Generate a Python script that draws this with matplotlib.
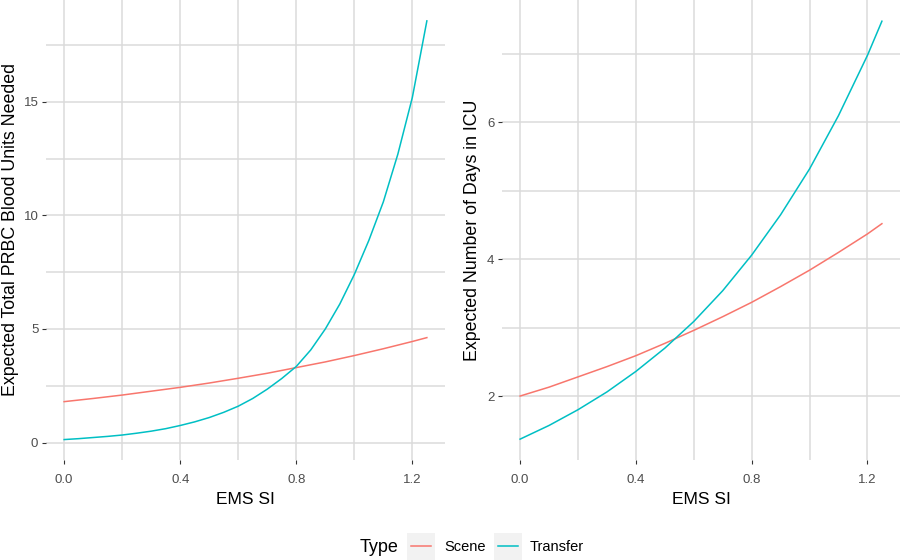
import matplotlib
matplotlib.use("Agg")
import matplotlib.pyplot as plt
from matplotlib.patches import Rectangle
from matplotlib.lines import Line2D
from matplotlib.ticker import MultipleLocator

plt.rcParams['font.family'] = ['Liberation Sans', 'DejaVu Sans']

# ---- data ----
x_fine = [0.0, 0.05, 0.10, 0.15, 0.20, 0.25, 0.30, 0.35, 0.40, 0.45, 0.50, 0.55, 0.60,
          0.65, 0.70, 0.75, 0.80, 0.85, 0.90, 0.95, 1.00, 1.05, 1.10, 1.15, 1.20, 1.25]
prbc_transfer = [0.13, 0.17, 0.22, 0.27, 0.33, 0.41, 0.50, 0.61, 0.75, 0.91, 1.10, 1.33, 1.60,
                 1.94, 2.35, 2.82, 3.35, 4.08, 5.00, 6.10, 7.40, 8.90, 10.6, 12.7, 15.2, 18.57]

x_coarse = [0.0, 0.1, 0.2, 0.3, 0.4, 0.5, 0.6, 0.7, 0.8, 0.9, 1.0, 1.1, 1.2, 1.25]
prbc_scene = [1.80, 1.94, 2.09, 2.26, 2.43, 2.62, 2.83, 3.05, 3.30, 3.55, 3.83, 4.13, 4.45, 4.62]
icu_scene = [2.00, 2.13, 2.28, 2.43, 2.59, 2.77, 2.96, 3.16, 3.37, 3.60, 3.84, 4.10, 4.37, 4.52]
icu_transfer = [1.37, 1.57, 1.80, 2.06, 2.36, 2.70, 3.09, 3.54, 4.06, 4.65, 5.32, 6.10, 6.98, 7.48]

x_ticks = [0.0, 0.4, 0.8, 1.2]
x_ticklabels = ["0.0", "0.4", "0.8", "1.2"]
types = ["Scene", "Transfer"]
colors = {"Scene": "#F8766D", "Transfer": "#00BFC4"}

fig = plt.figure(figsize=(9, 5.6), dpi=100)
W, H = 900, 560

def px_axes(l, r, t, b):
    return fig.add_axes([l / W, 1 - b / H, (r - l) / W, (b - t) / H])

ax1 = px_axes(46, 445, 0, 460)
ax2 = px_axes(502, 900, 0, 460)

def style(ax, ymajor, yticks):
    ax.set_facecolor("white")
    for s in ax.spines.values():
        s.set_visible(False)
    ax.set_xlim(-0.0625, 1.3125)
    ax.set_xticks(x_ticks)
    ax.set_xticklabels(x_ticklabels)
    ax.xaxis.set_minor_locator(MultipleLocator(0.2))
    ax.set_yticks(yticks)
    ax.yaxis.set_minor_locator(MultipleLocator(ymajor / 2))
    ax.grid(which="both", color="#DBDBDB", linewidth=1.1)
    ax.set_axisbelow(True)
    ax.tick_params(which="major", length=3, width=0.8, color="#333333",
                   labelcolor="#4D4D4D", labelsize=9.5)
    ax.tick_params(axis="x", which="major", pad=7)
    ax.tick_params(axis="y", which="major", pad=2.5)
    ax.tick_params(which="minor", length=0)
    ax.set_xlabel("EMS SI", fontsize=12.5, color="black")
    ax.xaxis.set_label_coords(0.5, -(504 - 460) / 460)
    ax.xaxis.label.set_va("baseline")

ax1.plot(x_coarse, prbc_scene, color=colors["Scene"], lw=1.1)
ax1.plot(x_fine, prbc_transfer, color=colors["Transfer"], lw=1.1)
style(ax1, 5, [0, 5, 10, 15])
ax1.set_ylim(-0.77, 19.49)
ax1.set_ylabel("Expected Total PRBC Blood Units Needed", fontsize=12.8, color="black")
ax1.yaxis.label.set_va("baseline")
ax1.yaxis.set_label_coords((15 - 46) / 399, 0.5)

ax2.plot(x_coarse, icu_scene, color=colors["Scene"], lw=1.1)
ax2.plot(x_coarse, icu_transfer, color=colors["Transfer"], lw=1.1)
style(ax2, 2, [2, 4, 6])
ax2.set_ylim(1.065, 7.79)
ax2.set_ylabel("Expected Number of Days in ICU", fontsize=12.8, color="black")
ax2.yaxis.label.set_va("baseline")
ax2.yaxis.set_label_coords((477 - 502) / 398, 0.5)

# ---- legend (bottom, horizontal) ----
fig.text(360 / W, 1 - 547 / H, "Type", fontsize=13, va="center", ha="left")
for (x0, name, tx) in [(407, "Scene", 444), (494, "Transfer", 530)]:
    fig.add_artist(Rectangle((x0 / W, 1 - 560 / H), 28 / W, 27 / H,
                             transform=fig.transFigure, facecolor="#F2F2F2",
                             edgecolor="none"))
    fig.add_artist(Line2D([(x0 + 4) / W, (x0 + 24) / W], [1 - 546 / H, 1 - 546 / H],
                          transform=fig.transFigure, color=colors[name], lw=1.1))
    fig.text(tx / W, 1 - 547 / H, name, fontsize=10.5, va="center", ha="left")

fig.savefig("out.png", dpi=100, facecolor="white")
